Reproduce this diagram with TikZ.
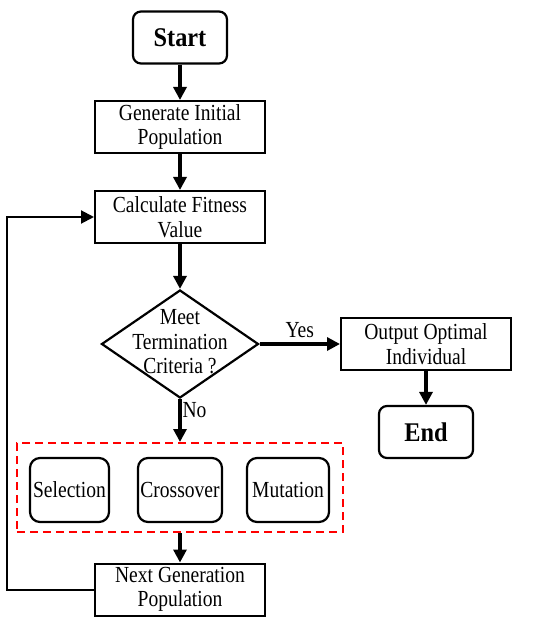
\documentclass[tikz,border=0pt]{standalone}
\usepackage{fontspec}
\setmainfont{Liberation Serif}
\newfontfamily\gafont[FakeStretch=0.85]{Liberation Serif}
\newfontfamily\gabold[FakeStretch=0.9]{Liberation Serif Bold}
\usepackage{xcolor}
\usetikzlibrary{arrows.meta,positioning,shapes.geometric}
\definecolor{GARed}{HTML}{FF0000}

\begin{document}
\begin{tikzpicture}[x=1bp, y=-1bp,
  txt/.style={font=\gafont\fontsize{23bp}{24.5bp}\selectfont, align=center},
  box/.style={txt, draw, line width=2bp, minimum width=170bp, minimum height=52bp, inner sep=0pt},
  term/.style={draw, line width=2.2bp, rounded corners=8bp, minimum width=94bp, minimum height=52bp,
    inner sep=0pt, font=\gabold\fontsize{27bp}{28bp}\selectfont},
  op/.style={txt, draw, line width=2.2bp, rounded corners=10bp, minimum height=64bp, inner sep=0pt},
  decision/.style={draw, diamond, line width=2.2bp, minimum width=157bp, minimum height=108bp, inner sep=0pt},
  flow/.style={line width=3.2bp, -{Triangle[length=13bp,width=13bp]}},
  loopline/.style={line width=2bp, -{Triangle[length=13bp,width=13bp]}}]
\useasboundingbox (0,0) rectangle (550,626);

\node[term] (start) at (180,37.5) {Start};
\node[box] (init) at (180,127) {Generate Initial\\Population};
\node[box] (calc) at (180,217) {Calculate Fitness\\Value};
\node[decision] (crit) at (180,344) {};
\node[txt] (crittext) at (180,342) {Meet\\Termination\\Criteria ?};
\node[box] (out) at (426,344) {Output Optimal\\Individual};
\node[term] (end) at (426,432) {End};

% genetic operators
\node[draw=GARed, dashed, dash pattern=on 8bp off 5bp, line width=2bp,
  minimum width=326bp, minimum height=89bp, inner sep=0pt] (ops) at (180,487.5) {};
\node[op, minimum width=79bp] (sel) at (69.5,490) {Selection};
\node[op, minimum width=84bp] (cross) at (180,490) {Crossover};
\node[op, minimum width=82bp] (mut) at (288,490) {Mutation};

\node[box] (next) at (180,589.5) {Next Generation\\Population};

\draw[flow] (start) -- (init);
\draw[flow] (init) -- (calc);
\draw[flow] (calc) -- (crit.north);
\draw[flow] (crit.east) -- node[txt, above, yshift=1bp] {Yes} (out.west);
\draw[flow] (out) -- (end);
\draw[flow] (crit.south) -- node[txt, right, pos=.25, inner sep=1bp] {No} (ops.north);
\draw[flow] (ops.south) -- (next.north);
\draw[loopline] (next.west) -- ++(-87,0) |- (calc.west);
\end{tikzpicture}
\end{document}
